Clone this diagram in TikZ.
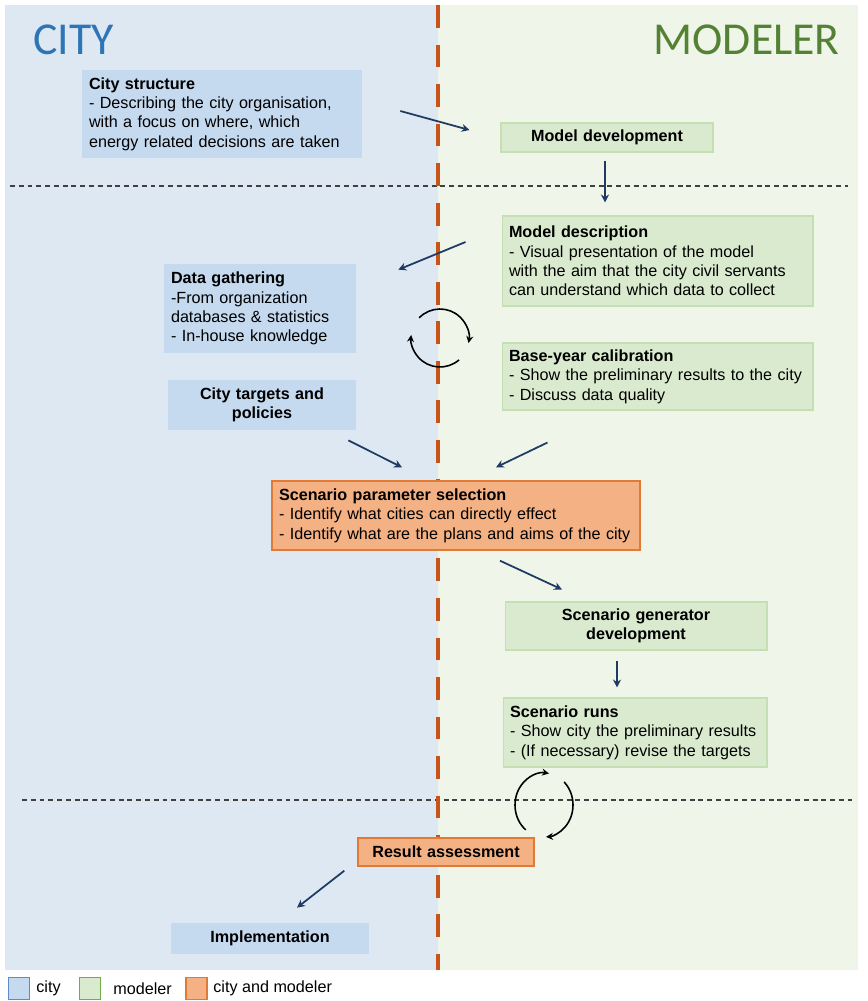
\documentclass[tikz,border=0pt]{standalone}
\usepackage{fontspec}
\setmainfont{Liberation Sans}
\newfontfamily\headfont{Carlito}
\usetikzlibrary{arrows.meta, positioning}

\definecolor{cityback}{HTML}{DEE8F3}
\definecolor{modback}{HTML}{EFF5E9}
\definecolor{cityfill}{HTML}{C5D9EF}
\definecolor{cityline}{HTML}{5B8CC8}
\definecolor{modfill}{HTML}{DAEACF}
\definecolor{modline}{HTML}{C4E0B2}
\definecolor{modedge}{HTML}{70AD47}
\definecolor{bothfill}{HTML}{F4B183}
\definecolor{bothline}{HTML}{E07A35}
\definecolor{divider}{HTML}{C9541A}
\definecolor{cityblue}{HTML}{2E75B6}
\definecolor{modgreen}{HTML}{548235}
\definecolor{arrownavy}{HTML}{1F3B63}

\begin{document}
\begin{tikzpicture}[x=0.02cm, y=0.02cm, font=\fontsize{9.2}{11}\selectfont,
  box/.style={rectangle, inner xsep=0.14cm, inner ysep=0pt, align=left},
  citybox/.style={box, fill=cityfill},
  modbox/.style={box, fill=modfill, draw=modline, line width=0.6pt},
  bothbox/.style={box, fill=bothfill, draw=bothline, line width=0.8pt},
  flow/.style={-{Stealth[length=4.5pt, width=4.5pt]}, draw=arrownavy, line width=1pt},
  turn/.style={-{Stealth[length=4pt, width=4pt]}, line width=0.9pt},
  rowline/.style={dash pattern=on 2.8pt off 2.2pt, line width=0.6pt, draw=black!75},
  legsq/.style={rectangle, minimum width=0.42cm, minimum height=0.44cm, line width=0.6pt, inner sep=0pt},
  legtext/.style={anchor=west, inner sep=0pt}]
  \useasboundingbox (0,0) rectangle (868,-1001);

  % lanes
  \fill[cityback] (5,-5) rectangle (438,-970);
  \fill[modback] (438,-5) rectangle (858,-970);
  \draw[rowline] (10,-186) -- (848,-186);
  \draw[rowline] (22,-800) -- (852,-800);
  \draw[divider, line width=2.3pt, dash pattern=on 13pt off 9.5pt] (438,-5) -- (438,-970);

  \node (citytitle)[font=\headfont\fontsize{26}{26}\selectfont, text=cityblue, anchor=west, inner sep=0pt] at (33,-40) {CITY};
  \node (modtitle)[font=\headfont\fontsize{26}{26}\selectfont, text=modgreen, anchor=east, inner sep=0pt] at (840,-40) {MODELER};

  % steps
  \node (cstruct)[citybox, text width=5.32cm, minimum height=1.76cm] at (222,-114) {\textbf{City structure}\\- Describing the city organisation,\\with a focus on where, which\\energy related decisions are taken};
  \node (moddev)[modbox, text width=3.96cm, minimum height=0.58cm, align=center] at (607,-137.5) {\textbf{Model development}};
  \node (moddesc)[modbox, text width=5.94cm, minimum height=1.8cm] at (657.5,-261) {\textbf{Model description}\\- Visual presentation of the model\\with the aim that the city civil servants\\can understand which data to collect};
  \node (datag)[citybox, text width=3.56cm, minimum height=1.78cm] at (260,-308.5) {\textbf{Data gathering}\\-From organization\\databases \& statistics\\- In-house knowledge};
  \node (bycal)[modbox, text width=5.94cm, minimum height=1.34cm] at (657.5,-376.5) {\textbf{Base-year calibration}\\- Show the preliminary results to the city\\- Discuss data quality};
  \node (ctarg)[citybox, text width=3.48cm, minimum height=1.0cm, align=center] at (262,-405) {\textbf{City targets and}\\\textbf{policies}};
  \node (spsel)[bothbox, text width=7.08cm, minimum height=1.38cm] at (456,-515.5) {\textbf{Scenario parameter selection}\\- Identify what cities can directly effect\\- Identify what are the plans and aims of the city};
  \node (sgen)[modbox, text width=4.96cm, minimum height=0.96cm, align=center] at (636,-626) {\textbf{Scenario generator}\\\textbf{development}};
  \node (sruns)[modbox, text width=5.0cm, minimum height=1.38cm] at (635,-732.5) {\textbf{Scenario runs}\\- Show city the preliminary results\\- (If necessary) revise the targets};
  \node (resa)[bothbox, text width=3.24cm, minimum height=0.56cm, align=center] at (446,-852) {\textbf{Result assessment}};
  \node (impl)[citybox, text width=3.68cm, minimum height=0.62cm, align=center] at (270,-938.5) {\textbf{Implementation}};

  % flow arrows
  \draw[flow] ([shift={(38,3)}]cstruct.east) -- ([shift={(-31,7.5)}]moddev.west);
  \draw[flow] ([shift={(-2,-8)}]moddev.south) -- ([shift={(-52.5,13)}]moddesc.north);
  \draw[flow] ([shift={(-36,19)}]moddesc.west) -- ([shift={(42,-6)}]datag.north east);
  \draw[flow] ([shift={(-8,-10)}]ctarg.south east) -- ([shift={(-54,13)}]spsel.north);
  \draw[flow] ([shift={(46,-32)}]bycal.south west) -- ([shift={(40,13)}]spsel.north);
  \draw[flow] ([shift={(44,-10)}]spsel.south) -- ([shift={(-74,12)}]sgen.north);
  \draw[flow] ([shift={(-19,-10)}]sgen.south) -- ([shift={(-18,10)}]sruns.north);
  \draw[flow] ([shift={(-13,-4)}]resa.south west) -- ([shift={(27,15)}]impl.north);

  % iteration loops
  \coordinate (loopA) at (440,-338);
  \draw[turn] ([shift={(136:0.58cm)}]loopA) arc[start angle=136, end angle=-10, radius=0.58cm];
  \draw[turn] ([shift={(-49:0.58cm)}]loopA) arc[start angle=-49, end angle=-186, radius=0.58cm];
  \coordinate (loopB) at (544,-805);
  \draw[turn] ([shift={(231:0.58cm and 0.64cm)}]loopB) arc[start angle=231, end angle=80, x radius=0.58cm, y radius=0.64cm];
  \draw[turn] ([shift={(46:0.58cm and 0.64cm)}]loopB) arc[start angle=46, end angle=-86, x radius=0.58cm, y radius=0.64cm];

  % legend
  \node (legcity)[legsq, fill=cityfill, draw=cityline] at (19,-988.5) {};
  \node (legcitytxt)[legtext] at (36,-988.5) {city};
  \node (legmod)[legsq, fill=modfill, draw=modedge] at (90,-988.5) {};
  \node (legmodtxt)[legtext] at (113,-988.5) {modeler};
  \node (legboth)[legsq, fill=bothfill, draw=bothline] at (196.5,-988.5) {};
  \node (legbothtxt)[legtext] at (213,-988.5) {city and modeler};
\end{tikzpicture}
\end{document}
